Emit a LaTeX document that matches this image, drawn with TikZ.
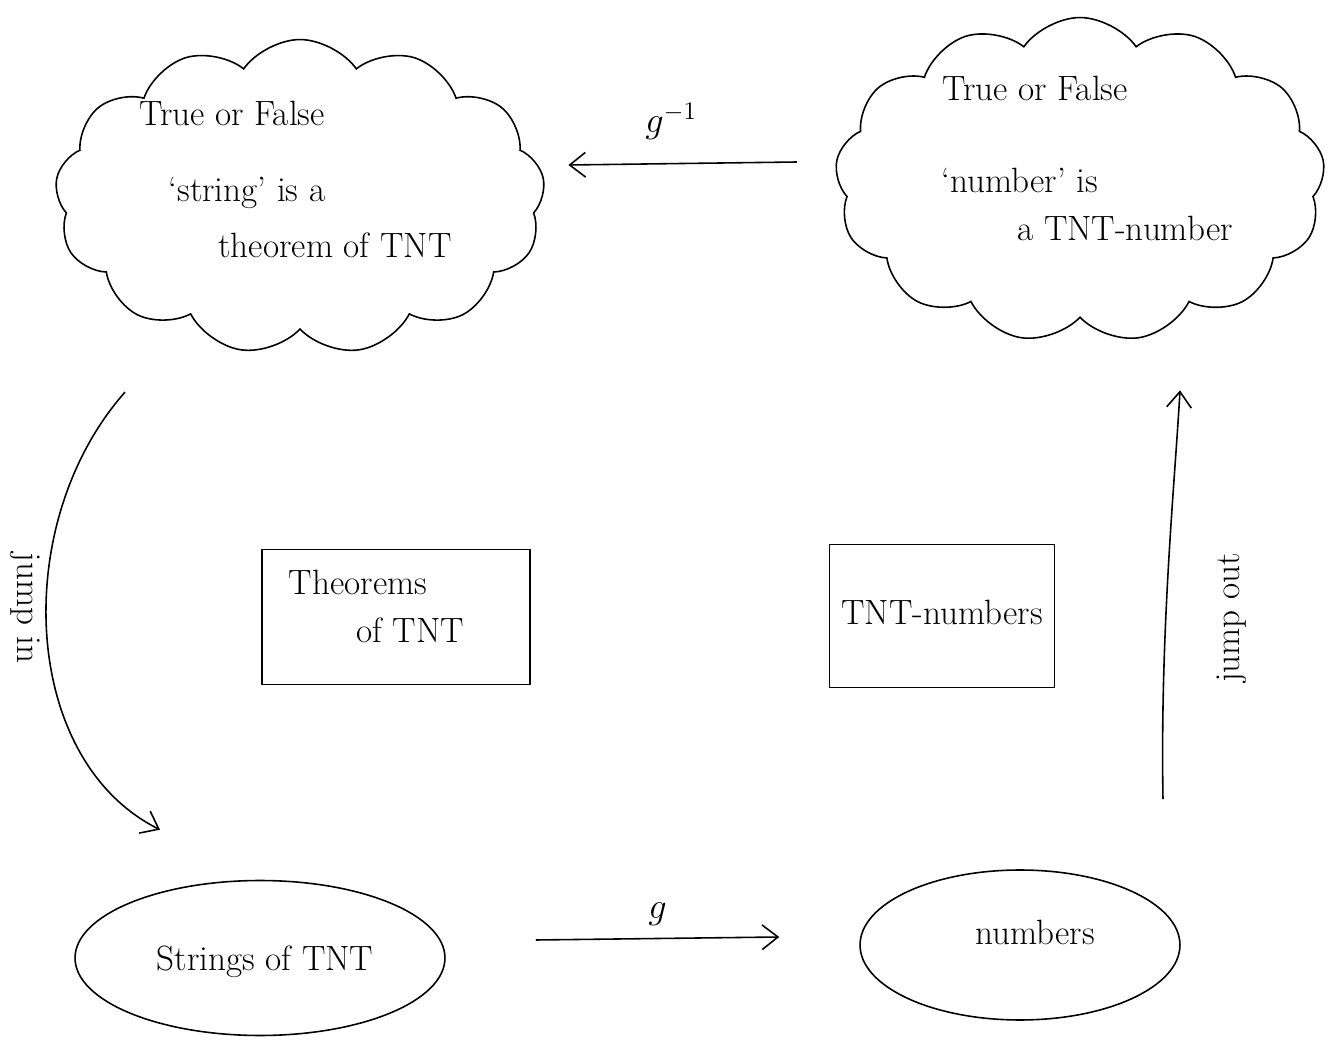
\documentclass[tikz,border=0pt]{standalone}
\usetikzlibrary{shapes.symbols,shapes.geometric,arrows.meta,calc}
\begin{document}
\begin{tikzpicture}[x=0.02cm,y=-0.02cm,
  ink/.style={draw=black,line width=0.9pt},
  cloudbox/.style={ink,cloud,cloud puffs=13,cloud puff arc=110,aspect=1.55,inner sep=0pt},
  rectbox/.style={ink,rectangle,inner sep=0pt},
  ovalbox/.style={ink,ellipse,inner sep=0pt},
  lbl/.style={font=\fontsize{20}{24}\selectfont,inner sep=1pt},
  arr/.style={line width=0.9pt,-{Straight Barb[length=9pt,width=14pt]}}
]
\useasboundingbox (0,0) rectangle (1330,1047);

% clouds
\node[cloudbox,minimum width=9.8cm,minimum height=6.3cm] (lc) at (300,197) {};
\node[cloudbox,minimum width=9.8cm,minimum height=6.5cm] (rc) at (1080,180) {};

\node[lbl] (lt1) at (232,113) {True or False};
\node[lbl] (lt2) at (247,193) {`string' is a};
\node[lbl] (lt3) at (335,245) {theorem of TNT};

\node[lbl] (rt1) at (1035,88) {True or False};
\node[lbl] (rt2) at (1020,180) {`number' is};
\node[lbl] (rt3) at (1125,228) {a TNT-number};

% boxes
\node[rectbox,minimum width=5.36cm,minimum height=2.7cm] (thm) at (396,617) {};
\node[lbl] (thmt1) at (358,582) {Theorems};
\node[lbl] (thmt2) at (410,630) {of TNT};

\node[rectbox,minimum width=4.5cm,minimum height=2.86cm] (tntn) at (942,616) {};
\node[lbl] (tntnt) at (942,612) {TNT-numbers};

% ellipses
\node[ovalbox,minimum width=7.4cm,minimum height=3.1cm] (se) at (260,958) {};
\node[lbl] (set) at (265,962) {Strings of TNT};
\node[ovalbox,minimum width=6.4cm,minimum height=3.0cm] (ne) at (1020,945) {};
\node[lbl] (net) at (1035,932) {numbers};

% arrows
\draw[arr] ([shift={(-40,-18)}]rc.west) -- ([shift={(25,-32)}]lc.east)
  node[pos=0.55,above=12pt,lbl] (ginv) {$g^{-1}$};
\draw[arr] ([shift={(90,-18)}]se.east) -- ([shift={(-80,-8)}]ne.west)
  node[pos=0.5,above=6pt,lbl] (glab) {$g$};
\draw[arr] ([shift={(-175,62)}]lc.south) .. controls +(-115,130) and +(-140,-70) .. ([shift={(-100,-50)}]se.north);
\draw[arr] ([shift={(143,-70)}]ne.north) .. controls +(-3,-170) and +(-5,90) .. ([shift={(100,72)}]rc.south);

\node[lbl,rotate=-90] (jin) at (25,608) {jump in};
\node[lbl,rotate=90] (jout) at (1232,618) {jump out};
\end{tikzpicture}
\end{document}
